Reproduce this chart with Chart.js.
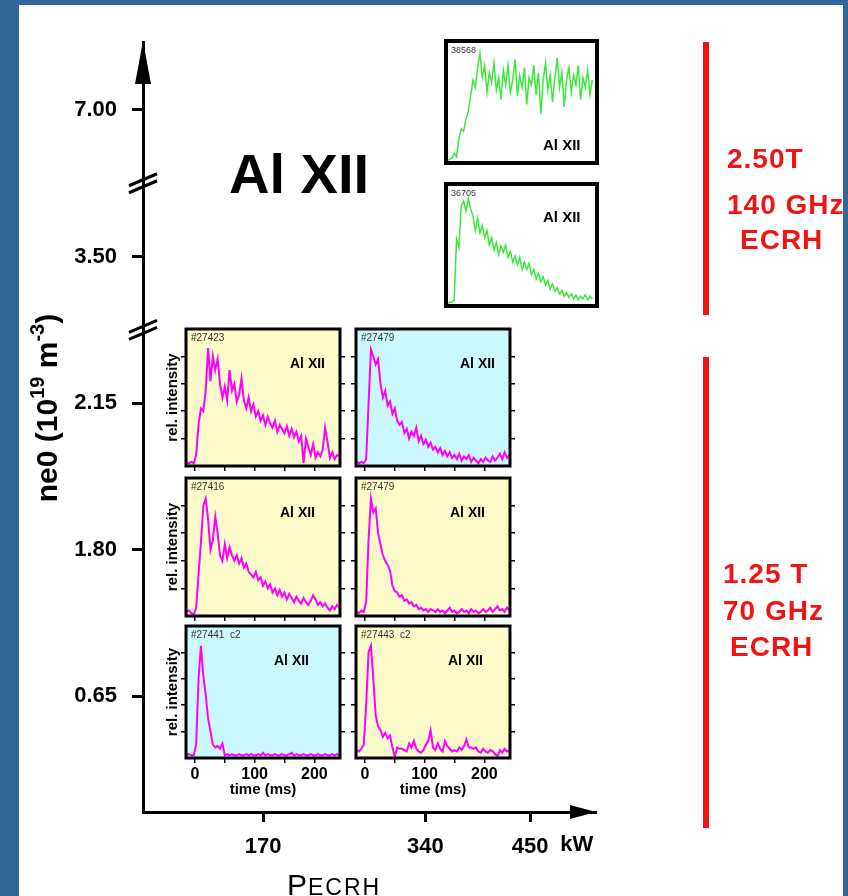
<!DOCTYPE html>
<html>
<head>
<meta charset="utf-8">
<title>Al XII time traces vs. ECRH power and density</title>
<script src="https://cdn.jsdelivr.net/npm/chart.js@4.4.1/dist/chart.umd.min.js"></script>
<style>
  html, body { margin: 0; padding: 0; }
  body { width: 848px; height: 896px; background: #336699; overflow: hidden; position: relative; }
  #sheet { position: absolute; left: 19px; top: 5px; width: 824px; height: 891px; background: #fff; overflow: hidden; }
  #stage { position: absolute; left: -19px; top: -5px; width: 848px; height: 896px; }
  #stage canvas { position: absolute; }
</style>
</head>
<body>
<div id="sheet">
  <div id="stage">
    <canvas id="main" width="848" height="896" style="left:0;top:0"></canvas>
  </div>
</div>
<script>
// ---- data ----
const powerTicksKW = [170, 340, 450];
const densityTicks = ['0.65', '1.80', '2.15', '3.50', '7.00'];
const axisBreaks = [2.5, 3.5];

const timeMs = [-14, -10, -6, -2, 2, 6, 10, 14, 18, 22, 26, 30, 34, 38, 42, 46, 50, 54, 58, 62,
  66, 70, 74, 78, 82, 86, 90, 94, 98, 102, 106, 110, 114, 118, 122, 126, 130, 134, 138, 142,
  146, 150, 154, 158, 162, 166, 170, 174, 178, 182, 186, 190, 194, 198, 202, 206, 210, 214, 218, 222,
  226, 230, 234, 238, 242];
const timeTicksMs = [0, 50, 100, 150, 200];
const timeTickLabels = [0, 100, 200];
const intensityTicks = [0.2, 0.4, 0.6, 0.8];

// 1.25 T / 70 GHz shots (relative intensity)
const shot27423 = [0.03, 0.02, 0.03, 0.02, 0.08, 0.30, 0.42, 0.40, 0.55, 0.86,
  0.62, 0.80, 0.70, 0.78, 0.60, 0.50, 0.58, 0.48, 0.70, 0.55,
  0.60, 0.47, 0.52, 0.64, 0.48, 0.42, 0.50, 0.40, 0.45, 0.36,
  0.40, 0.33, 0.37, 0.30, 0.36, 0.31, 0.28, 0.33, 0.25, 0.30,
  0.27, 0.24, 0.29, 0.22, 0.27, 0.21, 0.25, 0.18, 0.22, 0.02,
  0.20, 0.14, 0.08, 0.16, 0.06, 0.10, 0.07, 0.12, 0.28, 0.18,
  0.06, 0.10, 0.05, 0.08, 0.07];
const shot27479a = [0.03, 0.02, 0.03, 0.02, 0.05, 0.45, 0.85, 0.80, 0.74, 0.78,
  0.60, 0.50, 0.55, 0.44, 0.47, 0.38, 0.42, 0.33, 0.30, 0.32,
  0.24, 0.27, 0.20, 0.25, 0.22, 0.28, 0.18, 0.22, 0.16, 0.19,
  0.14, 0.17, 0.12, 0.14, 0.10, 0.13, 0.08, 0.11, 0.07, 0.10,
  0.06, 0.08, 0.05, 0.09, 0.04, 0.07, 0.05, 0.08, 0.03, 0.06,
  0.04, 0.02, 0.05, 0.03, 0.06, 0.04, 0.03, 0.07, 0.04, 0.06,
  0.09, 0.05, 0.10, 0.06, 0.08];
const shot27416 = [0.03, 0.04, 0.02, 0.01, 0.06, 0.30, 0.53, 0.80, 0.85, 0.70,
  0.48, 0.55, 0.72, 0.60, 0.44, 0.40, 0.52, 0.42, 0.50, 0.44,
  0.40, 0.44, 0.38, 0.42, 0.35, 0.38, 0.32, 0.30, 0.28, 0.32,
  0.26, 0.28, 0.22, 0.25, 0.20, 0.23, 0.17, 0.20, 0.15, 0.19,
  0.14, 0.17, 0.12, 0.16, 0.13, 0.10, 0.14, 0.11, 0.09, 0.13,
  0.10, 0.08, 0.11, 0.15, 0.12, 0.08, 0.10, 0.07, 0.09, 0.06,
  0.04, 0.07, 0.05, 0.08, 0.06];
const shot27479b = [0.03, 0.02, 0.04, 0.03, 0.10, 0.55, 0.85, 0.75, 0.78, 0.60,
  0.52, 0.44, 0.40, 0.37, 0.33, 0.22, 0.18, 0.17, 0.14, 0.15,
  0.11, 0.12, 0.09, 0.10, 0.07, 0.08, 0.05, 0.06, 0.04, 0.05,
  0.03, 0.05, 0.04, 0.03, 0.05, 0.03, 0.04, 0.02, 0.04, 0.06,
  0.03, 0.04, 0.02, 0.03, 0.05, 0.03, 0.04, 0.02, 0.05, 0.03,
  0.04, 0.02, 0.03, 0.05, 0.03, 0.04, 0.06, 0.03, 0.05, 0.07,
  0.04, 0.05, 0.03, 0.06, 0.04];
const shot27441 = [0.02, 0.03, 0.02, 0.02, 0.10, 0.60, 0.85, 0.62, 0.48, 0.30,
  0.20, 0.10, 0.08, 0.09, 0.07, 0.11, 0.02, 0.03, 0.02, 0.03,
  0.02, 0.02, 0.03, 0.02, 0.02, 0.03, 0.02, 0.03, 0.02, 0.02,
  0.03, 0.02, 0.04, 0.02, 0.03, 0.02, 0.02, 0.03, 0.02, 0.02,
  0.03, 0.02, 0.02, 0.03, 0.04, 0.02, 0.03, 0.02, 0.02, 0.03,
  0.02, 0.02, 0.03, 0.02, 0.02, 0.03, 0.02, 0.02, 0.03, 0.02,
  0.02, 0.03, 0.02, 0.03, 0.02];
const shot27443 = [0.06, 0.05, 0.07, 0.10, 0.40, 0.80, 0.85, 0.60, 0.32, 0.24,
  0.21, 0.16, 0.19, 0.15, 0.17, 0.08, 0.01, 0.08, 0.07, 0.07,
  0.06, 0.05, 0.11, 0.08, 0.13, 0.07, 0.05, 0.04, 0.06, 0.10,
  0.13, 0.21, 0.08, 0.06, 0.11, 0.07, 0.05, 0.13, 0.09, 0.07,
  0.05, 0.06, 0.05, 0.08, 0.06, 0.09, 0.14, 0.08, 0.08, 0.07,
  0.08, 0.05, 0.04, 0.07, 0.05, 0.04, 0.06, 0.05, 0.03, 0.01,
  0.06, 0.04, 0.07, 0.05, 0.06];

// 2.50 T / 140 GHz shots
const shot38568 = [0.03, 0.03, 0.02, 0.03, 0.04, 0.08, 0.05, 0.20, 0.28, 0.26,
  0.36, 0.42, 0.55, 0.68, 0.62, 0.78, 0.90, 0.70, 0.80, 0.58,
  0.74, 0.66, 0.82, 0.60, 0.70, 0.52, 0.76, 0.64, 0.80, 0.58,
  0.68, 0.85, 0.55, 0.72, 0.62, 0.78, 0.48, 0.70, 0.64, 0.80,
  0.56, 0.74, 0.40, 0.68, 0.82, 0.60, 0.72, 0.50, 0.70, 0.86,
  0.62, 0.74, 0.46, 0.68, 0.78, 0.58, 0.72, 0.64, 0.80, 0.52,
  0.70, 0.62, 0.76, 0.56, 0.68];
const shot36705 = [0.03, 0.03, 0.02, 0.03, 0.03, 0.05, 0.55, 0.48, 0.82, 0.86,
  0.78, 0.88, 0.80, 0.74, 0.62, 0.72, 0.60, 0.66, 0.56, 0.62,
  0.50, 0.56, 0.46, 0.52, 0.42, 0.49, 0.44, 0.50, 0.40, 0.45,
  0.36, 0.41, 0.34, 0.40, 0.30, 0.36, 0.30, 0.35, 0.26, 0.30,
  0.22, 0.27, 0.20, 0.24, 0.17, 0.21, 0.14, 0.18, 0.12, 0.15,
  0.10, 0.13, 0.08, 0.11, 0.07, 0.10, 0.06, 0.09, 0.05, 0.08,
  0.06, 0.09, 0.05, 0.08, 0.06];

// ---- drawing ----
const FONT = "'Liberation Sans', Arial, Helvetica, sans-serif";
const YELLOW = '#fcfbc9';
const CYAN = '#cbf8fa';
const MAGENTA = '#ff00ff';
const GREEN = '#3be83b';
const RED = '#f01414';
const stage = document.getElementById('stage');

// arrows, axis breaks, titles and the field/frequency brackets
const axisDecor = {
  id: 'axisDecor',
  afterDraw(chart) {
    const { ctx, chartArea: a, scales: { x, y } } = chart;
    ctx.save();
    ctx.fillStyle = '#000';
    ctx.strokeStyle = '#000';

    ctx.beginPath();
    ctx.moveTo(a.left, a.top - 1);
    ctx.lineTo(a.left - 8, a.top + 42);
    ctx.lineTo(a.left + 8, a.top + 42);
    ctx.closePath();
    ctx.fill();
    ctx.beginPath();
    ctx.moveTo(a.right + 1, a.bottom);
    ctx.lineTo(a.right - 25, a.bottom - 7);
    ctx.lineTo(a.right - 25, a.bottom + 7);
    ctx.closePath();
    ctx.fill();

    ctx.lineWidth = 3;
    axisBreaks.forEach(b => {
      const py = y.getPixelForValue(b);
      [-3.5, 3.5].forEach(d => {
        ctx.beginPath();
        ctx.moveTo(a.left - 14, py + 6 + d);
        ctx.lineTo(a.left + 14, py - 6 + d);
        ctx.stroke();
      });
    });

    ctx.textAlign = 'left';
    ctx.textBaseline = 'alphabetic';
    ctx.font = `bold 56px ${FONT}`;
    ctx.fillText('Al XII', 229, 193);

    // rotated density label with superscripts
    const parts = [['ne0 (10', 30, 0], ['19', 20, -13], [' m', 30, 0], ['-3', 20, -13], [')', 30, 0]];
    let total = 0;
    parts.forEach(p => {
      ctx.font = `bold ${p[1]}px ${FONT}`;
      p.push(ctx.measureText(p[0]).width);
      total += p[3];
    });
    ctx.save();
    ctx.translate(57, 408);
    ctx.rotate(-Math.PI / 2);
    let cx = -total / 2;
    parts.forEach(p => {
      ctx.font = `bold ${p[1]}px ${FONT}`;
      ctx.fillText(p[0], cx, p[2]);
      cx += p[3];
    });
    ctx.restore();

    ctx.font = `30px ${FONT}`;
    ctx.fillText('P', 287, 895);
    const pw = ctx.measureText('P').width;
    ctx.font = `23px ${FONT}`;
    ctx.letterSpacing = '2px';
    ctx.fillText('ECRH', 287 + pw + 1, 895);
    ctx.letterSpacing = '0px';

    ctx.font = `bold 22px ${FONT}`;
    ctx.textBaseline = 'top';
    ctx.fillText('kW', x.getPixelForValue(450) + 30, x.top + 10 + 12);

    ctx.fillStyle = RED;
    ctx.fillRect(703, 42, 6, 273);
    ctx.fillRect(703, 357, 6, 471);
    ctx.font = `bold 28px ${FONT}`;
    ctx.textBaseline = 'middle';
    ctx.letterSpacing = '1px';
    [['2.50T', 727, 160], ['140 GHz', 727, 206], ['ECRH', 740, 241],
     ['1.25 T', 723, 575], ['70 GHz', 723, 612], ['ECRH', 730, 648]]
      .forEach(([t, tx, ty]) => ctx.fillText(t, tx, ty));
    ctx.restore();
  }
};

new Chart(document.getElementById('main'), {
  type: 'scatter',
  data: { datasets: [] },
  options: {
    responsive: false,
    animation: false,
    events: [],
    layout: { padding: { top: 42, right: 253, bottom: 0, left: 0 } },
    plugins: { legend: { display: false }, tooltip: { enabled: false } },
    scales: {
      x: {
        type: 'linear', min: 44, max: 518,
        afterBuildTicks: s => { s.ticks = powerTicksKW.map(v => ({ value: v })); },
        afterFit: s => { s.height = 84; },
        ticks: { color: '#000', font: { family: FONT, size: 22, weight: 'bold' }, padding: 12, maxRotation: 0, autoSkip: false, callback: v => String(v) },
        grid: { drawOnChartArea: false, tickLength: 10, lineWidth: 3, color: '#000' },
        border: { color: '#000', width: 3 }
      },
      y: {
        type: 'linear', min: -0.791, max: 4.464,
        afterBuildTicks: s => { s.ticks = densityTicks.map((_, i) => ({ value: i })); },
        afterFit: s => { s.width = 143; },
        ticks: { color: '#000', font: { family: FONT, size: 22, weight: 'bold' }, padding: 15, autoSkip: false, callback: (v, i) => densityTicks[i] },
        grid: { drawOnChartArea: false, tickLength: 11, lineWidth: 3, color: '#000' },
        border: { color: '#000', width: 3 }
      }
    }
  },
  plugins: [axisDecor]
});

// background, frame, shot number and ion label of each inset
const panelFrame = {
  id: 'panelFrame',
  beforeDraw(chart, args, o) {
    const { ctx, chartArea: a } = chart;
    ctx.save();
    ctx.fillStyle = o.fill;
    ctx.fillRect(a.left, a.top, a.right - a.left, a.bottom - a.top);
    ctx.restore();
  },
  afterDraw(chart, args, o) {
    const { ctx, chartArea: a } = chart;
    ctx.save();
    ctx.strokeStyle = '#000';
    ctx.lineWidth = o.frame;
    ctx.strokeRect(a.left, a.top, a.right - a.left, a.bottom - a.top);
    ctx.textAlign = 'left';
    ctx.textBaseline = 'alphabetic';
    ctx.fillStyle = '#333';
    ctx.font = `${o.shotSize}px ${FONT}`;
    ctx.fillText(o.shot, a.left + 5, a.top + 12);
    ctx.fillStyle = '#000';
    ctx.font = `bold ${o.labelSize}px ${FONT}`;
    ctx.fillText('Al XII', a.left + o.labelDx, a.top + o.labelDy);
    ctx.restore();
  }
};

function makePanel(p) {
  const padL = p.leftTitle ? 24 : 9, padR = 9, padT = 4, padB = p.timeAxis ? 44 : 9;
  const cv = document.createElement('canvas');
  cv.width = p.w + padL + padR;
  cv.height = p.h + padT + padB;
  cv.style.left = (p.x - padL) + 'px';
  cv.style.top = (p.y - padT) + 'px';
  stage.appendChild(cv);

  const marks = { display: p.ticks, drawOnChartArea: false, tickLength: 5, lineWidth: 1.5, color: '#000' };
  const titleFont = { family: FONT, size: 15, weight: 'bold' };
  new Chart(cv, {
    type: 'line',
    data: {
      datasets: [{
        data: timeMs.map((t, i) => ({ x: t, y: p.values[i] })),
        borderColor: p.color, borderWidth: p.lineWidth, pointRadius: 0, tension: 0
      }]
    },
    options: {
      responsive: false,
      animation: false,
      events: [],
      layout: { padding: { top: padT, left: 0, right: 0, bottom: 0 } },
      plugins: {
        legend: { display: false },
        tooltip: { enabled: false },
        panelFrame: { fill: p.fill, frame: p.frame, shot: p.shot, shotSize: p.shotSize, labelSize: p.labelSize, labelDx: p.labelDx, labelDy: p.labelDy }
      },
      scales: {
        x: {
          type: 'linear', min: p.tMin, max: p.tMax,
          afterBuildTicks: s => { s.ticks = timeTicksMs.map(v => ({ value: v })); },
          afterFit: s => { s.height = padB; },
          ticks: {
            display: p.timeAxis, color: '#000', font: { family: FONT, size: 16, weight: 'bold' },
            padding: 2, maxRotation: 0, autoSkip: false,
            callback: v => timeTickLabels.includes(v) ? String(v) : ''
          },
          grid: marks,
          border: { display: false },
          title: { display: p.timeAxis, text: 'time (ms)', color: '#000', font: titleFont, padding: { top: 0, bottom: 3 } }
        },
        y: {
          min: 0, max: 1, position: 'left',
          afterBuildTicks: s => { s.ticks = intensityTicks.map(v => ({ value: v })); },
          afterFit: s => { s.width = padL; },
          ticks: { display: false },
          grid: marks,
          border: { display: false },
          title: { display: p.leftTitle, text: 'rel. intensity', color: '#000', font: titleFont, padding: { top: 2, bottom: 0 } }
        },
        y2: {
          min: 0, max: 1, position: 'right',
          afterBuildTicks: s => { s.ticks = intensityTicks.map(v => ({ value: v })); },
          afterFit: s => { s.width = padR; },
          ticks: { display: false },
          grid: marks,
          border: { display: false }
        }
      }
    },
    plugins: [panelFrame]
  });
}

const COLS = [186, 356];
const ROWS = [[329, 137], [478, 138], [626, 132]];
const lowFieldPanels = [
  { shot: '#27423', values: shot27423, col: 0, row: 0, fill: YELLOW, labelDx: 104 },
  { shot: '#27479', values: shot27479a, col: 1, row: 0, fill: CYAN, labelDx: 104 },
  { shot: '#27416', values: shot27416, col: 0, row: 1, fill: YELLOW, labelDx: 94 },
  { shot: '#27479', values: shot27479b, col: 1, row: 1, fill: YELLOW, labelDx: 94 },
  { shot: '#27441  c2', values: shot27441, col: 0, row: 2, fill: CYAN, labelDx: 88 },
  { shot: '#27443  c2', values: shot27443, col: 1, row: 2, fill: YELLOW, labelDx: 92 }
];
lowFieldPanels.forEach(p => makePanel({
  ...p,
  x: COLS[p.col], w: 154, y: ROWS[p.row][0], h: ROWS[p.row][1],
  tMin: -15, tMax: 243, color: MAGENTA, lineWidth: 2, frame: 3, ticks: true,
  leftTitle: p.col === 0, timeAxis: p.row === 2,
  shotSize: 10, labelSize: 14, labelDy: 39
}));

const highFieldPanels = [
  { shot: '38568', values: shot38568, y: 41, labelDy: 109 },
  { shot: '36705', values: shot36705, y: 184, labelDy: 38 }
];
highFieldPanels.forEach(p => makePanel({
  ...p,
  x: 446, w: 151, h: 122,
  tMin: -8, tMax: 250, fill: '#fff', color: GREEN, lineWidth: 1.5, frame: 4, ticks: false,
  leftTitle: false, timeAxis: false,
  shotSize: 9, labelSize: 15, labelDx: 97
}));
</script>
</body>
</html>
